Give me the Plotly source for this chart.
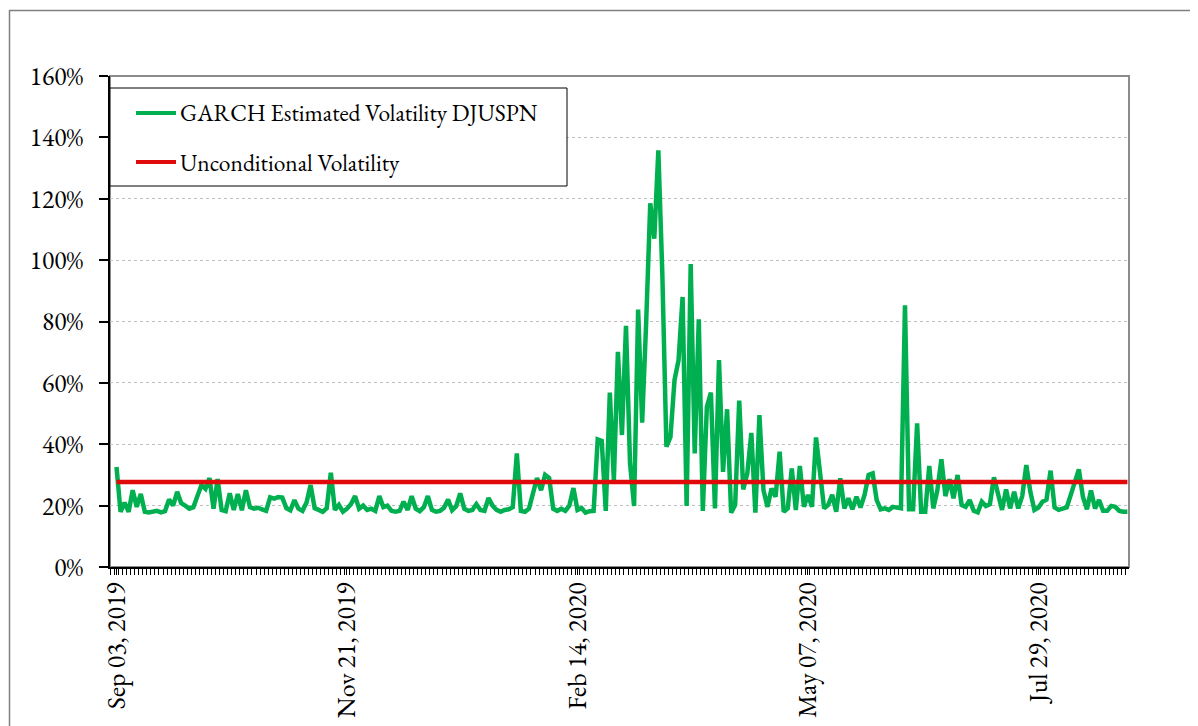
import pandas as pd
import plotly.graph_objects as go

# ---------------- data ----------------
market_holidays = ["2019-11-28", "2019-12-25", "2020-01-01", "2020-01-20",
                   "2020-02-17", "2020-04-10", "2020-05-25", "2020-07-03"]

garch_vol = [
    32.6, 18, 21, 18, 25, 19.6, 23.8, 18, 17.8, 18,
    18.3, 17.8, 18.2, 22, 20, 24.5, 20.8, 20, 19, 19.5,
    23, 26.7, 25.5, 29, 19, 28.7, 18.6, 18.2, 24, 18.6,
    23.8, 18.5, 25, 19.5, 19, 19.3, 18.8, 18.3, 22.7, 22.3,
    22.8, 22.6, 19.2, 18.5, 21.8, 19, 18.3, 21, 26.7, 19.2,
    18.6, 18, 19.2, 30.7, 18.6, 20.2, 18, 19, 20.5, 23.1,
    19, 20, 18.6, 19, 18.3, 23.1, 19.5, 20, 18.3, 18,
    18.3, 21.3, 18.6, 23.1, 19, 18.2, 19.5, 23.1, 18.6, 18,
    18.3, 19.3, 22, 18.5, 19.8, 24, 19, 18.3, 18.6, 20.5,
    18.6, 18.3, 22.5, 20, 18.6, 18, 18.6, 18.8, 19.5, 37,
    18.3, 18, 19, 24, 29, 25, 30, 29, 19, 18.3,
    19, 18.3, 20, 25.7, 18.6, 19.2, 17.7, 18.2, 18.3, 41.6,
    41.1, 18.3, 56.8, 28.3, 70.1, 43, 78.6, 33.8, 19.9, 83.9,
    47, 80, 118.5, 107, 135.8, 95, 39.2, 42.4, 60.9, 67.4,
    88, 19.9, 98.7, 37, 80.7, 18.3, 52.2, 56.8, 19.1, 67.4,
    31, 51.4, 17.7, 20.2, 54.2, 25.3, 30.5, 43.7, 17.7, 49.5,
    25, 19.6, 25.6, 22.9, 37.6, 18, 19.1, 32.1, 18.6, 32.9,
    19.6, 23.5, 19.6, 42.2, 29.4, 19.1, 20.2, 23.5, 18, 28.9,
    19.1, 22.4, 18.8, 22.9, 19.4, 23.5, 30, 30.5, 21.8, 18.8,
    19.1, 18.6, 19.6, 19.3, 19.1, 85.3, 18.8, 18.8, 46.8, 18,
    18, 32.9, 19.1, 25, 35.1, 23.1, 28.6, 22.4, 30, 20.2,
    19.6, 21.8, 18.3, 17.8, 21.3, 19.9, 20.5, 29.2, 24.2, 18.6,
    25.3, 19.1, 24.5, 19.1, 23.1, 33.2, 24.5, 18.6, 19.4, 21.3,
    22, 31.4, 19.4, 18.6, 19, 19.4, 23.5, 27.5, 31.8, 22.9,
    18.8, 24.9, 19.1, 21.8, 18.3, 18.3, 19.9, 19.6, 18.3, 18,
    18,
]
unconditional_level = 27.7
unconditional_vol = [unconditional_level] * len(garch_vol)

trading_days = pd.bdate_range("2019-09-03", periods=len(garch_vol), freq="C",
                              holidays=market_holidays)
categories = [d.strftime("%b %d, %Y") for d in trading_days]
tick_labels = ["Sep 03, 2019", "Nov 21, 2019", "Feb 14, 2020", "May 07, 2020", "Jul 29, 2020"]
y_ticks = [0, 20, 40, 60, 80, 100, 120, 140, 160]
series_names = ["GARCH Estimated Volatility DJUSPN", "Unconditional Volatility"]

# ---------------- styling ----------------
FONT = "Garamond, 'EB Garamond', 'Liberation Serif', 'Times New Roman', serif"
GREEN = "#00B050"
RED = "#E00A0A"
OFF = 8                       # page body margin of the html page
W, H = 1198, 726
# desired plot-area edges in page pixels
PL, PR, PT, PB = 110, 1129, 76, 567
L, T = PL - OFF, PT - OFF
R = W - (PR - OFF)
B = H - (PB - OFF)
PW, PH = PR - PL, PB - PT


def px_x(p):
    return (p - PL) / PW


def px_y(p):
    return (PB - p) / PH


xi = list(range(len(categories)))
tickvals = [categories.index(t) for t in tick_labels]

fig = go.Figure()
fig.add_trace(go.Scatter(x=xi, y=garch_vol, mode="lines", name=series_names[0],
                         line=dict(color=GREEN, width=4.5), showlegend=False))
fig.add_trace(go.Scatter(x=xi, y=unconditional_vol, mode="lines", name=series_names[1],
                         line=dict(color=RED, width=4.5), showlegend=False))

shapes = [
    # outer chart border (cut by the page at right/bottom)
    dict(type="rect", xref="paper", yref="paper", x0=px_x(9.5), x1=px_x(1230),
         y0=px_y(760), y1=px_y(10.5), line=dict(color="#7f7f7f", width=1.5),
         fillcolor="rgba(0,0,0,0)", layer="below"),
    # plot-area border
    dict(type="rect", xref="paper", yref="paper", x0=0, x1=1, y0=0, y1=1,
         line=dict(color="#8c8c8c", width=2), fillcolor="rgba(0,0,0,0)", layer="below"),
    # legend box
    dict(type="rect", xref="paper", yref="paper", x0=0, x1=px_x(567),
         y0=px_y(186), y1=px_y(88), line=dict(color="black", width=1),
         fillcolor="white", layer="above"),
    dict(type="line", xref="paper", yref="paper", x0=px_x(136), x1=px_x(176),
         y0=px_y(113), y1=px_y(113), line=dict(color=GREEN, width=4), layer="above"),
    dict(type="line", xref="paper", yref="paper", x0=px_x(136), x1=px_x(176),
         y0=px_y(162), y1=px_y(162), line=dict(color=RED, width=4), layer="above"),
]
annotations = [
    dict(xref="paper", yref="paper", x=px_x(178), y=px_y(113), text=series_names[0],
         showarrow=False, xanchor="left", yanchor="middle",
         font=dict(family=FONT, size=23.5, color="black")),
    dict(xref="paper", yref="paper", x=px_x(178), y=px_y(162), text=series_names[1],
         showarrow=False, xanchor="left", yanchor="middle",
         font=dict(family=FONT, size=23.5, color="black")),
]

fig.update_layout(
    width=W, height=H,
    margin=dict(l=L, r=R, t=T, b=B, autoexpand=False),
    paper_bgcolor="white", plot_bgcolor="white",
    font=dict(family=FONT, size=23, color="black"),
    showlegend=False,
    shapes=shapes, annotations=annotations,
)
fig.update_xaxes(
    range=[-1.61, len(categories) - 0.6],
    tickmode="array", tickvals=tickvals, ticktext=tick_labels,
    tickangle=-90, tickfont=dict(family=FONT, size=26, color="black"),
    ticks="outside", ticklen=6, tickcolor="black", tickwidth=1,
    ticklabelstandoff=-3,
    minor=dict(tickmode="linear", tick0=-0.5, dtick=1, ticks="outside",
               ticklen=6, tickcolor="black", tickwidth=1, showgrid=False),
    showline=True, linecolor="black", linewidth=1.5,
    showgrid=False, zeroline=False, automargin=False,
)
fig.update_yaxes(
    range=[0, 160], tickmode="array", tickvals=y_ticks,
    ticktext=[f"{v}%" for v in y_ticks],
    tickfont=dict(family=FONT, size=25.5, color="black"),
    ticks="outside", ticklen=9, tickcolor="black", tickwidth=1.5,
    ticklabelstandoff=11,
    showline=True, linecolor="black", linewidth=1.5,
    showgrid=True, gridcolor="#bfbfbf", griddash="dot", gridwidth=1,
    zeroline=False, automargin=False,
)

fig.write_html("out.html")
